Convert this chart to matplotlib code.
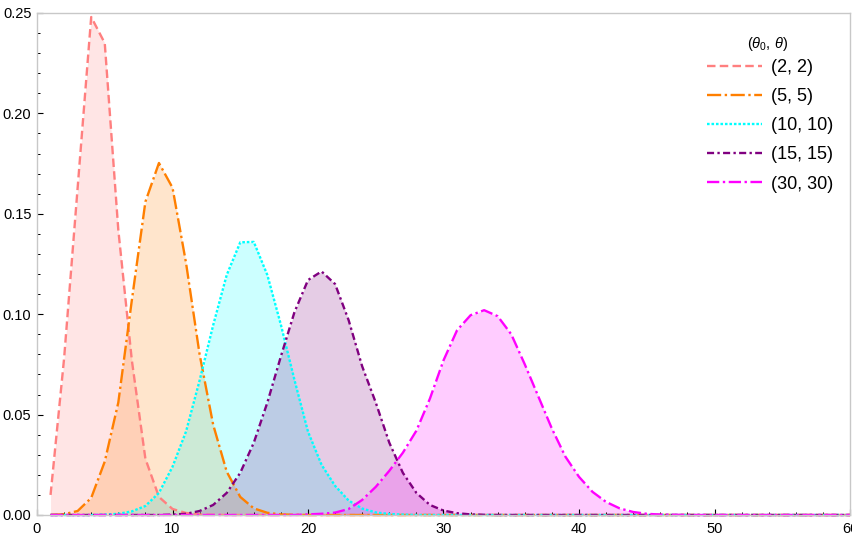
import matplotlib
matplotlib.use('Agg')
import matplotlib.pyplot as plt
from matplotlib.ticker import MultipleLocator, FormatStrFormatter

plt.rcParams['font.family'] = ['Liberation Sans', 'DejaVu Sans']
plt.rcParams['mathtext.fontset'] = 'custom'
plt.rcParams['mathtext.rm'] = 'Liberation Sans'
plt.rcParams['mathtext.it'] = 'Liberation Sans:italic'

x = list(range(1, 61))

labels = ['(2, 2)', '(5, 5)', '(10, 10)', '(15, 15)', '(30, 30)']
legend_title = r'$(\theta_0,\,\theta)$'

p_2_2 = [0.010, 0.078, 0.163, 0.248, 0.235, 0.142, 0.077, 0.028, 0.009, 0.003,
         0.001, 0.0003, 0.0001, 0, 0, 0, 0, 0, 0, 0,
         0, 0, 0, 0, 0, 0, 0, 0, 0, 0,
         0, 0, 0, 0, 0, 0, 0, 0, 0, 0,
         0, 0, 0, 0, 0, 0, 0, 0, 0, 0,
         0, 0, 0, 0, 0, 0, 0, 0, 0, 0]

p_5_5 = [0.0001, 0.0004, 0.002, 0.0085, 0.0266, 0.056, 0.107, 0.156, 0.1753, 0.163,
         0.1255, 0.080, 0.045, 0.0216, 0.009, 0.0033, 0.0011, 0.0003, 0.0001, 0,
         0, 0, 0, 0, 0, 0, 0, 0, 0, 0,
         0, 0, 0, 0, 0, 0, 0, 0, 0, 0,
         0, 0, 0, 0, 0, 0, 0, 0, 0, 0,
         0, 0, 0, 0, 0, 0, 0, 0, 0, 0]

p_10_10 = [0, 0, 0, 0, 0.0002, 0.0006, 0.0018, 0.0045, 0.011, 0.024,
           0.0416, 0.067, 0.0945, 0.1195, 0.1358, 0.136, 0.1195, 0.0947, 0.0673, 0.0415,
           0.025, 0.0145, 0.0072, 0.0032, 0.0013, 0.0005, 0.0002, 0, 0, 0,
           0, 0, 0, 0, 0, 0, 0, 0, 0, 0,
           0, 0, 0, 0, 0, 0, 0, 0, 0, 0,
           0, 0, 0, 0, 0, 0, 0, 0, 0, 0]

p_15_15 = [0, 0, 0, 0, 0, 0, 0, 0, 0, 0.0002,
           0.0006, 0.002, 0.005, 0.011, 0.021, 0.036, 0.056, 0.079, 0.101, 0.117,
           0.1213, 0.115, 0.097, 0.074, 0.056, 0.036, 0.021, 0.011, 0.005, 0.0022,
           0.0009, 0.0003, 0.0001, 0, 0, 0, 0, 0, 0, 0,
           0, 0, 0, 0, 0, 0, 0, 0, 0, 0,
           0, 0, 0, 0, 0, 0, 0, 0, 0, 0]

p_30_30 = [0, 0, 0, 0, 0, 0, 0, 0, 0, 0,
           0, 0, 0, 0, 0, 0, 0, 0, 0, 0.0003,
           0.0006, 0.0012, 0.003, 0.0075, 0.014, 0.022, 0.031, 0.042, 0.058, 0.077,
           0.092, 0.0995, 0.102, 0.099, 0.090, 0.075, 0.059, 0.043, 0.029, 0.019,
           0.0115, 0.0065, 0.0033, 0.0015, 0.0006, 0.0002, 0.0001, 0, 0, 0,
           0, 0, 0, 0, 0, 0, 0, 0, 0, 0]

series = [p_2_2, p_5_5, p_10_10, p_15_15, p_30_30]
colors = ['#FF7F7F', '#FF7F00', '#00FFFF', '#800080', '#FF00FF']
dashes = [(3.6, 1.8), (6, 1.5, 1, 1.5), (1.1, 0.8), (3.0, 1.4, 1, 1.4), (5.2, 1.5, 1, 1.5)]

fig = plt.figure(figsize=(8.53, 5.36), dpi=100)
ax = fig.add_axes([37 / 853, 21 / 536, 813 / 853, 502 / 536])

for vals, c in zip(series, colors):
    ax.fill_between(x, vals, 0, color=c, alpha=0.2, linewidth=0)

for vals, c, d, lab in zip(series, colors, dashes, labels):
    ax.plot(x, vals, color=c, linewidth=1.7, dashes=d, label=lab, clip_on=False)

ax.set_xlim(0, 60)
ax.set_ylim(0, 0.25)
ax.xaxis.set_major_locator(MultipleLocator(10))
ax.xaxis.set_minor_locator(MultipleLocator(2))
ax.yaxis.set_major_locator(MultipleLocator(0.05))
ax.yaxis.set_minor_locator(MultipleLocator(0.01))
ax.yaxis.set_major_formatter(FormatStrFormatter('%.2f'))
ax.tick_params(which='both', direction='in', color='black', labelsize=10.5)
ax.tick_params(axis='x', pad=5)
ax.tick_params(axis='y', pad=4)
ax.tick_params(which='major', length=4, width=0.8)
ax.tick_params(which='minor', length=2.2, width=0.7)

for s in ax.spines.values():
    s.set_color('#C8C8C8')
    s.set_linewidth(1)

leg = ax.legend(loc='upper right', bbox_to_anchor=(0.98, 0.908), frameon=False,
                fontsize=13, handlelength=3.0, handletextpad=0.55, labelspacing=0.67,
                borderpad=0, borderaxespad=0)
ax.text(0.899, 0.938, legend_title, transform=ax.transAxes, fontsize=10.5,
        ha='center', va='center')

fig.savefig('out.png', dpi=100)
